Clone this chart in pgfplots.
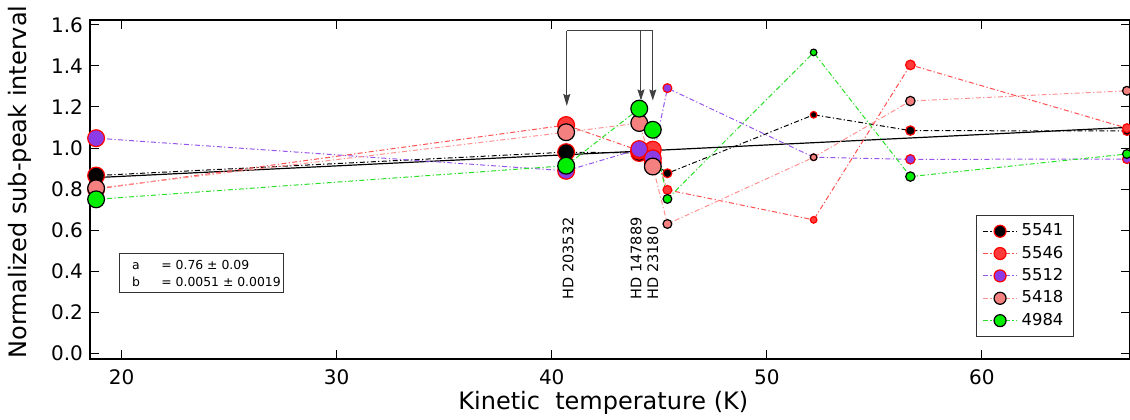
\documentclass[border=0pt]{standalone}
\usepackage{fontspec}
\setmainfont{DejaVu Sans}
\usepackage{pgfplots}
\pgfplotsset{compat=1.18}
\usetikzlibrary{arrows.meta}

% marker fills and line colours
\definecolor{fRed}{RGB}{255,58,58}
\definecolor{fPurple}{RGB}{140,60,230}
\definecolor{fSalmon}{RGB}{245,128,128}
\definecolor{fGreen}{RGB}{0,238,0}
\definecolor{lRed}{RGB}{255,80,80}
\definecolor{lPurple}{RGB}{150,85,235}
\definecolor{lSalmon}{RGB}{255,145,145}
\definecolor{lGreen}{RGB}{40,225,40}

\tikzset{ddot/.style={line width=0.5pt, dash pattern=on 2.5pt off 1.2pt on 0.6pt off 1.2pt}}
% #1 line colour, #2 marker edge, #3 marker fill; marker radius from column r
\pgfplotsset{
  sized/.style n args={3}{ddot, #1, mark=*, scatter,
    scatter/use mapped color={draw=#2, fill=#3},
    visualization depends on={value \thisrow{r} \as \perpointmarksize},
    scatter/@pre marker code/.append style={/tikz/mark size=\perpointmarksize},
    mark options={solid, line width=0.6pt}},
}
\newcommand\fitfont{\fontsize{6.2}{8}\selectfont}
\newcommand\hdfont{\fontsize{7.25}{8}\selectfont}

\begin{document}
\begin{tikzpicture}
\begin{axis}[
  name=ax,
  scale only axis,
  width=519.75pt, height=169.5pt,
  xmin=18.526, xmax=66.87,
  ymin=-0.028, ymax=1.624,
  xtick={20,30,40,50,60},
  ytick={0,0.2,0.4,0.6,0.8,1.0,1.2,1.4,1.6},
  yticklabel style={/pgf/number format/.cd, fixed, fixed zerofill, precision=1},
  /pgf/number format/assume math mode=true,
  ticklabel style={font=\fontsize{10}{12}\selectfont},
  xticklabel style={yshift=-2pt},
  tick align=inside,
  xtick pos=both, ytick pos=both,
  major tick length=4.5pt,
  tick style={line width=0.5pt, black},
  axis line style={line width=0.6pt},
  minor tick num=0,
  label style={font=\fontsize{12}{14}\selectfont},
  xlabel={Kinetic\ \ temperature (K)},
  ylabel={Normalized sub-peak interval},
  xlabel style={at={(axis description cs:0.4938,-0.1504)}, anchor=base},
  ylabel style={at={(axis description cs:-0.0673,0.522)}, anchor=center},
  clip=false,
  legend cell align=left,
  legend style={at={(axis description cs:0.9464,0.4236)}, anchor=north east,
    draw=black!80, font=\fontsize{8.2}{9.5}\selectfont, row sep=-0.4pt},
]

% fit line a + b T
\addplot[forget plot, black, line width=0.6pt] coordinates {(18.81,0.856) (66.87,1.101)};

% 5541
\addplot[forget plot, sized={black}{red}{black}] table {
T v r
18.81 0.866 4.2
40.67 0.980 4.2
44.07 0.976 4.2
44.70 0.930 4.2
45.38 0.877 2.2
52.18 1.162 1.65
56.68 1.085 2.35
66.75 1.083 2.2
};
% 5546
\addplot[forget plot, sized={lRed}{red}{fRed}] table {
T v r
18.81 0.800 4.2
40.67 1.112 4.2
44.07 0.987 4.2
44.70 0.992 4.2
45.38 0.796 2.2
52.18 0.650 1.65
56.68 1.405 2.4
66.75 1.097 2.2
};
% 5512
\addplot[forget plot, sized={lPurple}{red}{fPurple}] table {
T v r
18.81 1.048 4.2
40.67 0.889 4.2
44.07 0.995 4.2
44.70 0.950 4.2
45.38 1.292 2.2
52.18 0.955 1.65
56.68 0.945 2.35
66.75 0.946 2.2
};
% 5418
\addplot[forget plot, sized={lSalmon}{black}{fSalmon}] table {
T v r
18.81 0.804 4.2
40.67 1.077 4.2
44.07 1.122 4.2
44.70 0.910 4.2
45.38 0.630 2.2
52.18 0.955 1.65
56.68 1.229 2.35
66.75 1.279 2.2
};
% 4984
\addplot[forget plot, sized={lGreen}{black}{fGreen}] table {
T v r
18.81 0.750 4.2
40.67 0.914 4.2
44.07 1.192 4.2
44.70 1.089 4.2
45.38 0.752 2.2
52.18 1.466 1.65
56.68 0.861 2.35
66.75 0.971 2.2
};

\addlegendimage{ddot, black, mark=*, mark size=3pt, mark options={solid, line width=0.6pt, draw=red, fill=black}}
\addlegendentry{5541}
\addlegendimage{ddot, lRed, mark=*, mark size=3pt, mark options={solid, line width=0.6pt, draw=red, fill=fRed}}
\addlegendentry{5546}
\addlegendimage{ddot, lPurple, mark=*, mark size=3pt, mark options={solid, line width=0.6pt, draw=red, fill=fPurple}}
\addlegendentry{5512}
\addlegendimage{ddot, lSalmon, mark=*, mark size=3pt, mark options={solid, line width=0.6pt, draw=black, fill=fSalmon}}
\addlegendentry{5418}
\addlegendimage{ddot, lGreen, mark=*, mark size=3pt, mark options={solid, line width=0.6pt, draw=black, fill=fGreen}}
\addlegendentry{4984}

% fit parameters
\draw[black!80, line width=0.5pt] (axis cs:19.92,0.485) rectangle ++(81.85pt,-19.5pt);
\node[anchor=base west, inner sep=0pt, font=\fitfont] at ([shift={(5.85pt,-7.8pt)}]axis cs:19.92,0.485) {a};
\node[anchor=base west, inner sep=0pt, font=\fitfont] at ([shift={(20.5pt,-7.8pt)}]axis cs:19.92,0.485) {= 0.76 ± 0.09};
\node[anchor=base west, inner sep=0pt, font=\fitfont] at ([shift={(5.85pt,-16.15pt)}]axis cs:19.92,0.485) {b};
\node[anchor=base west, inner sep=0pt, font=\fitfont] at ([shift={(20.5pt,-16.15pt)}]axis cs:19.92,0.485) {= 0.0051 ± 0.0019};

% star labels and arrows
\node[rotate=90, anchor=west, inner sep=0pt, font=\hdfont] at (axis cs:40.76,0.26) {HD 203532};
\node[rotate=90, anchor=west, inner sep=0pt, font=\hdfont] at (axis cs:43.92,0.26) {HD 147889};
\node[rotate=90, anchor=west, inner sep=0pt, font=\hdfont] at (axis cs:44.70,0.26) {HD 23180};
\draw[black!75, line width=0.5pt] (axis cs:40.70,1.572) -- (axis cs:44.70,1.572);
\draw[black!75, line width=0.5pt, -{Stealth[length=6pt, width=3.5pt, inset=0.8pt]}] (axis cs:40.70,1.572) -- (axis cs:40.70,1.205);
\draw[black!75, line width=0.5pt, -{Stealth[length=5.5pt, width=3.5pt, inset=0.8pt]}] (axis cs:44.15,1.572) -- (axis cs:44.15,1.232);
\draw[black!75, line width=0.5pt, -{Stealth[length=5.5pt, width=3.5pt, inset=0.8pt]}] (axis cs:44.70,1.572) -- (axis cs:44.70,1.232);
\end{axis}
\pgfresetboundingbox
\path ([shift={(-45pt,-30.5pt)}]ax.south west) rectangle ([shift={(0.25pt,10pt)}]ax.north east);
\end{tikzpicture}
\end{document}
